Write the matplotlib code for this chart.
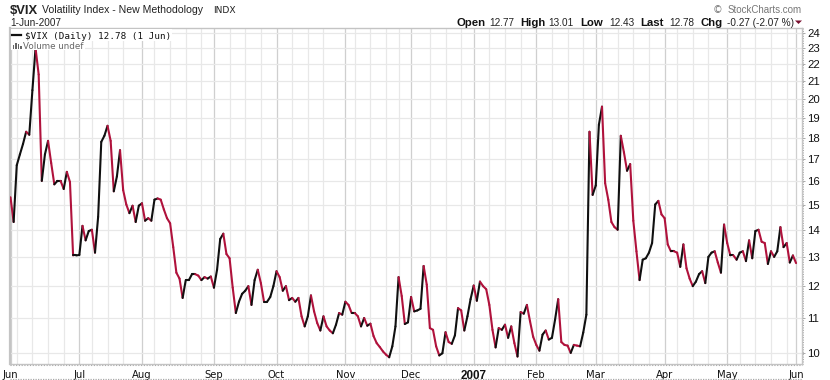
import numpy as np
import matplotlib
matplotlib.use("Agg")
import matplotlib.pyplot as plt
from matplotlib.collections import LineCollection
from matplotlib.lines import Line2D
from matplotlib.patches import Polygon, Rectangle
from matplotlib.ticker import NullFormatter, NullLocator

# daily close, one trading day per value, 1-Jun-2006 to 1-Jun-2007
vix = [
	15.3, 14.3, 16.7, 17.2, 17.7, 18.3, 18.15, 20.5, 23.0, 21.4, 16.0, 17.2, 17.85, 16.8, 15.85, 16.0,
	16.0, 15.65, 16.4, 15.95, 13.05, 13.05, 13.07, 14.15, 13.6, 13.95, 14.0, 13.15, 14.5, 17.8, 18.1, 18.6,
	17.85, 15.55, 16.2, 17.4, 15.6, 15.0, 14.65, 14.95, 14.3, 14.95, 15.05, 14.35, 14.45, 14.35, 15.2, 15.25,
	15.2, 14.8, 14.45, 14.25, 13.35, 12.45, 12.25, 11.62, 12.2, 12.2, 12.4, 12.4, 12.35, 12.2, 12.3, 12.25,
	12.32, 11.95, 12.55, 13.65, 13.85, 13.1, 12.95, 11.95, 11.15, 11.5, 11.75, 11.85, 12.0, 11.4, 12.2, 12.55,
	12.1, 11.5, 11.5, 11.65, 12.0, 12.5,
	12.3, 11.85, 12.0, 11.55, 11.62, 11.5, 11.62, 11.05, 10.75, 11.05, 11.7, 11.2, 10.85, 10.63, 11.05, 10.75,
	10.63, 10.55, 10.8, 11.15, 11.1, 11.5, 11.4, 11.15, 11.15, 11.05, 10.75, 11.0, 10.77, 10.83, 10.47, 10.27,
	10.16, 10.04, 9.95, 9.88, 10.18, 10.75, 12.3, 11.68, 10.82, 10.87, 11.65, 11.2, 11.23, 11.28, 12.68, 12.05,
	10.7, 10.65, 10.18, 9.93, 9.99, 10.58, 10.3, 10.25, 10.49, 11.3, 11.23, 10.63, 11.05, 11.58, 12.02, 11.53,
	12.15, 12.0, 11.9, 11.4, 10.65, 10.15, 10.7, 10.65, 10.8, 10.42, 10.75, 10.27, 9.9, 11.18, 11.13, 11.4,
	10.9, 10.45, 10.22, 10.06, 10.51, 10.63, 10.37, 10.42, 10.95, 11.58,
	10.3, 10.22, 10.2, 10.0, 10.22, 10.2, 10.18, 10.57, 11.1, 18.3, 15.4, 15.8, 18.65, 19.6, 15.9, 15.2,
	14.3, 14.1, 14.0, 18.1, 17.3, 16.45, 16.75, 14.35, 13.2, 12.2, 12.9, 12.95, 13.15, 13.5, 15.0, 15.15,
	14.6, 14.45, 13.45, 13.2, 13.2, 13.15, 12.65, 13.45, 12.6, 12.25, 12.0, 12.15, 12.4, 12.5, 12.1, 13.0,
	13.15, 13.2, 12.8, 12.45, 14.2, 13.5, 13.05, 13.05, 12.9, 13.15, 13.2, 12.85, 13.6, 12.95, 13.95, 14.0,
	13.55, 13.5, 12.75, 13.2, 13.0, 13.2, 14.1, 13.35, 13.5, 12.8, 13.05, 12.78,
]

month_days = [0, 22, 42, 65, 85, 107, 128, 148, 168, 187, 209, 229, 251]
month_labels = ["Jun", "Jul", "Aug", "Sep", "Oct", "Nov", "Dec", "2007", "Feb", "Mar", "Apr", "May", "Jun"]
week_days = [2, 7, 12, 17, 26, 31, 36, 46, 51, 56, 61, 70, 75, 80, 90, 95, 100, 110, 115, 120, 124,
	134, 139, 144, 153, 158, 163, 173, 178, 183, 189, 194, 199, 204, 213, 218, 223, 233, 238, 243, 248]
y_ticks = [10, 11, 12, 13, 14, 15, 16, 17, 18, 19, 20, 21, 22, 23, 24]

header_bold = [("Open", 456), ("High", 520.7), ("Low", 580.7), ("Last", 640.7), ("Chg", 700.7)]
header_vals = [("12.77", 489), ("13.01", 548), ("12.43", 609), ("12.78", 669), ("-0.27 (-2.07 %)", 726.7)]

W, H = 830, 380
RED = "#b0123c"
BLACK = "#101010"
sans = "Liberation Sans"

def fx(x):
	return x / W

def fy(y):
	return 1 - y / H

fig = plt.figure(figsize=(W / 100, H / 100), dpi=100, facecolor="white")
ax = fig.add_axes([fx(10), fy(364), (802 - 10) / W, (364 - 28) / H])

xs = np.arange(len(vix))
pts = np.column_stack([xs, vix])
segs = np.stack([pts[:-1], pts[1:]], axis=1)
cols = [BLACK if vix[i + 1] >= vix[i] else RED for i in range(len(vix) - 1)]
lc = LineCollection(segs, colors=cols, linewidths=1.5, capstyle="round", zorder=3)
ax.add_collection(lc)

ax.set_yscale("log")
ax.set_xlim(-0.16, 252.9)
ax.set_ylim(9.70, 24.3)
ax.yaxis.set_minor_locator(NullLocator())
ax.yaxis.set_minor_formatter(NullFormatter())
ax.set_yticks(y_ticks)
ax.set_yticklabels([str(t) for t in y_ticks], fontsize=8.2, family=sans, color="#111111")
ax.yaxis.tick_right()
ax.set_xticks(month_days)
ax.set_xticklabels(month_labels, fontsize=7.2, color="#111111")
ax.set_xticks(week_days, minor=True)
ax.get_xticklabels()[7].set_fontweight("bold")
ax.get_xticklabels()[7].set_family(sans)
ax.get_xticklabels()[7].set_fontsize(8.4)
ax.tick_params(axis="x", which="both", length=0, pad=4)
ax.tick_params(axis="y", length=2, width=0.7, color="#aaaaaa", pad=2)

ax.grid(True, axis="y", color="#e8e8e8", linewidth=0.9, zorder=0)
ax.grid(True, axis="x", which="major", color="#cfcfcf", linewidth=0.9, zorder=0)
ax.grid(True, axis="x", which="minor", color="#e8e8e8", linewidth=0.9, zorder=0)
ax.set_axisbelow(True)
for s in ax.spines.values():
	s.set_color("#c4c4c4")
	s.set_linewidth(1.0)
ax.spines["left"].set_linewidth(1.6)

# dotted rulers under and beside the plot
fig.add_artist(Line2D([fx(10), fx(802)], [fy(365), fy(365)], color="#aaaaaa", lw=0.8, ls=(0, (1, 1.5))))
fig.add_artist(Line2D([fx(10), fx(802)], [fy(378.5), fy(378.5)], color="#aaaaaa", lw=0.9, ls=(0, (1, 1))))
fig.add_artist(Line2D([fx(803), fx(803)], [fy(28), fy(364)], color="#aaaaaa", lw=0.7, ls=(0, (1, 1.5))))

# legend patches sit on top of the grid and the line
fig.add_artist(Rectangle((fx(11), fy(41)), (172 - 11) / W, 12 / H, transform=fig.transFigure, fc="white", ec="none", zorder=5))
fig.add_artist(Rectangle((fx(11), fy(50)), (85 - 11) / W, 9 / H, transform=fig.transFigure, fc="white", ec="none", zorder=5))
fig.add_artist(Line2D([fx(12), fx(21)], [fy(35), fy(35)], color=BLACK, lw=1.6, zorder=6))
for bx, bh in [(12.5, 4), (15, 6), (17.5, 5), (20, 3)]:
	fig.add_artist(Rectangle((fx(bx), fy(49)), 1.8 / W, bh / H, transform=fig.transFigure, fc="#666666", ec="none", zorder=6))

fig.text(fx(25), fy(39), "\\$VIX (Daily) 12.78 (1 Jun)", fontsize=6.7, family="DejaVu Sans Mono", color="#111111", zorder=7)
fig.text(fx(23), fy(49), "Volume undef", fontsize=6.3, color="#666666", zorder=7)

fig.text(fx(10), fy(14.5), "\\$VIX", fontsize=9.4, fontweight="bold", family=sans, color="#222222")
fig.text(fx(42), fy(13), "Volatility Index - New Methodology", fontsize=7.6, family=sans, color="#222222")
fig.text(fx(213), fy(13), "INDX", fontsize=6.6, color="#222222")
fig.text(fx(10), fy(26), "1-Jun-2007", fontsize=7.2, family=sans, color="#222222")
fig.text(fx(713), fy(13), "\u00a9", fontsize=7.0, color="#777777")
fig.text(fx(802), fy(13), "StockCharts.com", fontsize=7.0, family=sans, color="#777777", ha="right")

for lab, x in header_bold:
	fig.text(fx(x), fy(26), lab, fontsize=8.2, fontweight="bold", family=sans, color="#111111")
for lab, x in header_vals:
	fig.text(fx(x), fy(26), lab, fontsize=7.2, family=sans, color="#222222")
fig.add_artist(Polygon([(fx(795), fy(20.5)), (fx(802), fy(20.5)), (fx(798.5), fy(24))], transform=fig.transFigure, fc="#7a1030", ec="none"))

fig.savefig("out.png", dpi=100)
